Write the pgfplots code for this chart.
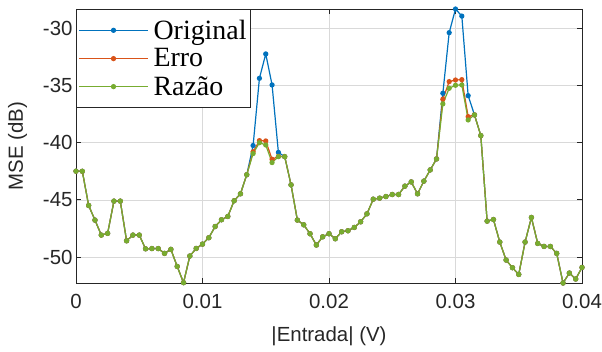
\documentclass[border=0pt]{standalone}
\usepackage{fontspec}
\setmainfont{Liberation Sans}
\newfontfamily\legfont{Liberation Serif}
\usepackage{pgfplots}
\usepackage{pgfplotstable}
\pgfplotsset{compat=1.18}
\definecolor{mblue}{rgb}{0,0.447,0.741}
\definecolor{morange}{rgb}{0.85,0.325,0.098}
\definecolor{mgreen}{rgb}{0.466,0.674,0.188}
\definecolor{axgray}{rgb}{0.15,0.15,0.15}

\pgfplotstableread{
x orig erro raz
0 -42.49 -42.49 -42.49
0.0005 -42.50 -42.50 -42.50
0.001 -45.49 -45.49 -45.49
0.0015 -46.77 -46.77 -46.77
0.002 -48.08 -48.08 -48.08
0.0025 -47.93 -47.93 -47.93
0.003 -45.11 -45.11 -45.11
0.0035 -45.11 -45.11 -45.11
0.004 -48.58 -48.58 -48.58
0.0045 -48.08 -48.08 -48.08
0.005 -48.08 -48.08 -48.08
0.0055 -49.28 -49.28 -49.28
0.006 -49.26 -49.26 -49.26
0.0065 -49.26 -49.26 -49.26
0.007 -49.68 -49.68 -49.68
0.0075 -49.33 -49.33 -49.33
0.008 -50.82 -50.82 -50.82
0.0085 -52.24 -52.24 -52.24
0.009 -49.91 -49.91 -49.91
0.0095 -49.25 -49.25 -49.25
0.01 -48.87 -48.87 -48.87
0.0105 -48.31 -48.31 -48.31
0.011 -47.33 -47.33 -47.33
0.0115 -46.74 -46.74 -46.74
0.012 -46.45 -46.45 -46.45
0.0125 -45.08 -45.08 -45.08
0.013 -44.47 -44.47 -44.47
0.0135 -42.80 -42.80 -42.80
0.014 -40.25 -40.80 -40.95
0.0145 -34.37 -39.82 -40.00
0.015 -32.24 -39.85 -40.20
0.0155 -34.95 -41.45 -41.74
0.016 -40.85 -41.20 -41.22
0.0165 -41.22 -41.22 -41.22
0.017 -43.69 -43.69 -43.69
0.0175 -46.77 -46.77 -46.77
0.018 -47.18 -47.18 -47.18
0.0185 -47.96 -47.96 -47.96
0.019 -48.95 -48.95 -48.95
0.0195 -48.23 -48.23 -48.23
0.02 -47.96 -47.96 -47.96
0.0205 -48.40 -48.40 -48.40
0.021 -47.79 -47.79 -47.79
0.0215 -47.70 -47.70 -47.70
0.022 -47.41 -47.41 -47.41
0.0225 -46.92 -46.92 -46.92
0.023 -46.22 -46.22 -46.22
0.0235 -44.94 -44.94 -44.94
0.024 -44.85 -44.85 -44.85
0.0245 -44.71 -44.71 -44.71
0.025 -44.53 -44.53 -44.53
0.0255 -44.53 -44.53 -44.53
0.026 -43.80 -43.80 -43.80
0.0265 -43.43 -43.43 -43.43
0.027 -44.47 -44.47 -44.47
0.0275 -43.36 -43.36 -43.36
0.028 -42.38 -42.38 -42.38
0.0285 -41.42 -41.42 -41.42
0.029 -35.68 -36.20 -36.61
0.0295 -30.38 -34.66 -35.24
0.03 -28.31 -34.52 -34.98
0.0305 -28.93 -34.49 -34.95
0.031 -35.89 -37.72 -38.01
0.0315 -37.57 -37.57 -37.57
0.032 -39.38 -39.38 -39.38
0.0325 -46.86 -46.86 -46.86
0.033 -46.72 -46.72 -46.72
0.0335 -48.69 -48.69 -48.69
0.034 -50.26 -50.26 -50.26
0.0345 -50.93 -50.93 -50.93
0.035 -51.52 -51.52 -51.52
0.0355 -48.69 -48.69 -48.69
0.036 -46.54 -46.54 -46.54
0.0365 -48.81 -48.81 -48.81
0.037 -49.07 -49.07 -49.07
0.0375 -49.07 -49.07 -49.07
0.038 -49.68 -49.68 -49.68
0.0385 -52.27 -52.27 -52.27
0.039 -51.40 -51.40 -51.40
0.0395 -51.92 -51.92 -51.92
0.04 -50.91 -50.91 -50.91
}\data

\begin{document}
\begin{tikzpicture}
\begin{axis}[
  name=ax,
  scale only axis,
  width=506bp, height=274bp,
  xmin=0, xmax=0.04, ymin=-52.27, ymax=-28.31,
  scaled x ticks=false,
  xtick={0,0.01,0.02,0.03,0.04},
  xticklabels={0,0.01,0.02,0.03,0.04},
  ytick={-50,-45,-40,-35,-30},
  /pgf/number format/assume math mode=true,
  tick align=inside,
  xtick pos=both, ytick pos=both,
  major tick length=5bp,
  grid=major,
  grid style={color=black!15, line width=0.7bp},
  axis line style={color=axgray, line width=0.8bp},
  tick style={color=axgray, line width=0.8bp},
  ticklabel style={font=\fontsize{20.5}{24}\selectfont, color=axgray},
  xticklabel style={yshift=-8bp},
  label style={font=\fontsize{20.5}{24}\selectfont, color=axgray},
  xlabel={|Entrada| (V)},
  ylabel={MSE (dB)},
  xlabel style={yshift=-11bp},
  ylabel style={yshift=9bp},
  legend style={at={(0,1)}, anchor=north west, draw=axgray, line width=0.8bp,
    fill=white, font=\legfont\fontsize{28}{30}\selectfont,
    inner xsep=2bp, inner ysep=8.5bp, row sep=4bp,
    /tikz/every odd column/.append style={column sep=3bp}},
  legend cell align=left,
  legend image code/.code={
    \draw[#1,mark=none] (2bp,0bp) -- (71bp,0bp);
    \draw[#1,only marks] plot coordinates {(36.5bp,0bp)};
  },
]
\addplot[mblue, line width=1.2bp, mark=*, mark size=2bp] table[x=x,y=orig]{\data};
\addlegendentry{Original}
\addplot[morange, line width=1.2bp, mark=*, mark size=2bp] table[x=x,y=erro]{\data};
\addlegendentry{Erro}
\addplot[mgreen, line width=1.2bp, mark=*, mark size=2bp] table[x=x,y=raz]{\data};
\addlegendentry{Razão}
\end{axis}
\pgfresetboundingbox
\path ([xshift=-76bp,yshift=-68bp]ax.south west) rectangle ([xshift=20bp,yshift=9bp]ax.north east);
\end{tikzpicture}
\end{document}
